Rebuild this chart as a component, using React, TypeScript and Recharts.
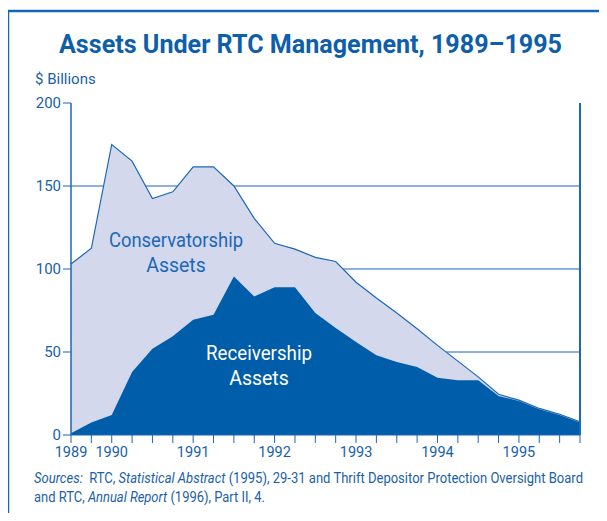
import React from 'react';
import { AreaChart, Area, XAxis, YAxis, CartesianGrid, ReferenceLine } from 'recharts';

const quarters = [
  '1989Q3', '1989Q4',
  '1990Q1', '1990Q2', '1990Q3', '1990Q4',
  '1991Q1', '1991Q2', '1991Q3', '1991Q4',
  '1992Q1', '1992Q2', '1992Q3', '1992Q4',
  '1993Q1', '1993Q2', '1993Q3', '1993Q4',
  '1994Q1', '1994Q2', '1994Q3', '1994Q4',
  '1995Q1', '1995Q2', '1995Q3', '1995Q4',
];

// total assets under RTC management ($ billions) = conservatorship + receivership
const totalAssets = [103, 112.5, 175, 165, 142.5, 146.5, 161.5, 161.5, 150, 130.5, 115.5, 112, 107, 104.5, 92, 82.5, 73.5, 64, 54, 44.5, 35, 24.5, 21, 16, 12.5, 8];
const receivershipAssets = [1, 7.5, 12, 38, 52, 59.5, 69.5, 72.5, 95.5, 83.5, 89, 89, 73.5, 64.5, 56, 48, 44, 41, 34.5, 33, 33, 23.5, 20.5, 15.5, 12, 7.5];

const yearTickLabels: Record<string, string> = {
  '1989Q3': '1989',
  '1990Q1': '1990',
  '1991Q1': '1991',
  '1992Q1': '1992',
  '1993Q1': '1993',
  '1994Q1': '1994',
  '1995Q1': '1995',
};

const yTicks = [0, 50, 100, 150, 200];
const gridValues = [50, 100, 150];

const data = quarters.map((q, i) => ({
  q,
  total: totalAssets[i],
  receivership: receivershipAssets[i],
}));

const BLUE = '#1B67B8';
const DARK = '#005DAA';
const LIGHT = '#D3D8EC';
const TEXT = '#1A5FA8';
const FONT = 'Roboto, "Liberation Sans", sans-serif';

export default function App() {
  return (
    <div style={{ position: 'relative', width: 607, height: 521, margin: '-8px', background: '#fff', overflow: 'hidden', fontFamily: FONT }}>
      <div style={{ position: 'absolute', left: 0, top: 0 }}>
        <AreaChart width={607} height={521} data={data} margin={{ top: 103, right: 27, bottom: 56, left: 0 }}>
          <CartesianGrid horizontal vertical={false} horizontalValues={gridValues} stroke={BLUE} strokeWidth={1} />
          <XAxis
            dataKey="q"
            interval={0}
            height={30}
            tickSize={8}
            tickMargin={4}
            stroke={BLUE}
            axisLine={{ stroke: BLUE, strokeWidth: 1 }}
            tickLine={{ stroke: BLUE, strokeWidth: 1 }}
            tick={{ fill: TEXT, fontSize: 14.5, fontFamily: FONT }}
            tickFormatter={(v: string) => yearTickLabels[v] ?? ''}
          />
          <YAxis
            domain={[0, 200]}
            ticks={yTicks}
            width={71}
            tickSize={8}
            tickMargin={2}
            stroke={BLUE}
            axisLine={{ stroke: BLUE, strokeWidth: 1.5 }}
            tickLine={{ stroke: BLUE, strokeWidth: 1 }}
            tick={{ fill: TEXT, fontSize: 15, fontFamily: FONT }}
          />
          <Area type="linear" dataKey="total" stroke={BLUE} strokeWidth={1.2} fill={LIGHT} fillOpacity={1} isAnimationActive={false} dot={false} activeDot={false} />
          <Area type="linear" dataKey="receivership" stroke="none" fill={DARK} fillOpacity={1} isAnimationActive={false} dot={false} activeDot={false} />
          <ReferenceLine x="1995Q4" stroke={BLUE} strokeWidth={2} />
        </AreaChart>
      </div>
      <svg width={607} height={521} style={{ position: 'absolute', left: 0, top: 0, pointerEvents: 'none' }}>
        <line x1={8} y1={11} x2={607} y2={11} stroke="#1565B8" strokeWidth={2.5} />
        <line x1={8} y1={10} x2={8} y2={521} stroke="#1565B8" strokeWidth={2.5} />
        <text x={59} y={52.5} fontSize={25} fontWeight={700} fill="#0D5EAB" fontFamily={FONT} textLength={503} lengthAdjust="spacingAndGlyphs">
          Assets Under RTC Management, 1989–1995
        </text>
        <text x={35} y={83.5} fontSize={15} fill={TEXT} fontFamily={FONT}>$ Billions</text>
        <text x={176} y={246.7} textAnchor="middle" fontSize={19.5} fill={BLUE} fontFamily={FONT} textLength={134} lengthAdjust="spacingAndGlyphs">Conservatorship</text>
        <text x={176} y={271.7} textAnchor="middle" fontSize={19.5} fill={BLUE} fontFamily={FONT}>Assets</text>
        <text x={259} y={360} textAnchor="middle" fontSize={19.5} fill="#fff" fontFamily={FONT} textLength={106} lengthAdjust="spacingAndGlyphs">Receivership</text>
        <text x={259} y={385} textAnchor="middle" fontSize={19.5} fill="#fff" fontFamily={FONT}>Assets</text>
        <text x={34} y={482.7} fontSize={14} fill={TEXT} fontFamily={FONT} textLength={549} lengthAdjust="spacingAndGlyphs">
          <tspan fontStyle="italic">Sources:</tspan>
          <tspan>{'\u00A0\u00A0RTC, '}</tspan>
          <tspan fontStyle="italic">Statistical Abstract</tspan>
          <tspan>{' (1995), 29-31 and Thrift Depositor Protection Oversight Board'}</tspan>
        </text>
        <text x={34} y={501.7} fontSize={14} fill={TEXT} fontFamily={FONT} textLength={231} lengthAdjust="spacingAndGlyphs">
          <tspan>{'and RTC, '}</tspan>
          <tspan fontStyle="italic">Annual Report</tspan>
          <tspan>{' (1996), Part II, 4.'}</tspan>
        </text>
      </svg>
    </div>
  );
}
